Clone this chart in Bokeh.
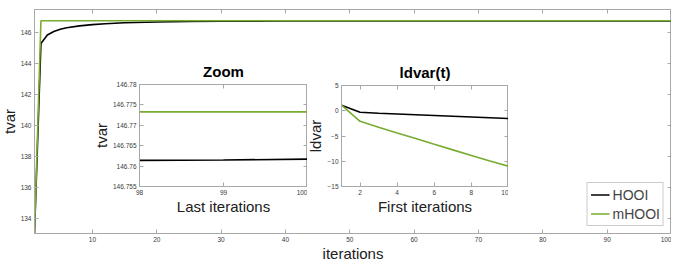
from bokeh.plotting import figure
from bokeh.layouts import column
from bokeh.models import LinearAxis, Legend, LegendItem, FixedTicker, Range1d
from bokeh.embed import file_html
from bokeh.resources import INLINE

# ---- data ----
iters = [1, 2, 3, 4, 5, 6, 8, 10, 12, 15, 20, 25, 30, 40, 50, 60, 70, 80, 90, 98, 99, 100]
tvar_hooi = [133.0, 145.3, 145.85, 146.08, 146.22, 146.32, 146.44, 146.52, 146.58, 146.64,
             146.69, 146.72, 146.74, 146.752, 146.757, 146.759, 146.760, 146.7608, 146.7612,
             146.7614, 146.7615, 146.7617]
tvar_mhooi = [133.0, 146.7733, 146.7733, 146.7733, 146.7733, 146.7733, 146.7733, 146.7733,
              146.7733, 146.7733, 146.7733, 146.7733, 146.7733, 146.7733, 146.7733, 146.7733,
              146.7733, 146.7733, 146.7733, 146.7733, 146.7733, 146.7733]
last_iters = [98, 99, 100]
last_hooi = [146.7614, 146.7615, 146.7617]
last_mhooi = [146.7733, 146.7733, 146.7733]
first_iters = [1, 2, 3, 4, 5, 6, 7, 8, 9, 10]
ldvar_hooi = [1.1, -0.3, -0.5, -0.65, -0.8, -0.95, -1.1, -1.25, -1.4, -1.55]
ldvar_mhooi = [1.1, -2.1, -3.25, -4.4, -5.5, -6.65, -7.75, -8.85, -9.95, -11.0]

main_xticks = [10, 20, 30, 40, 50, 60, 70, 80, 90, 100]
main_yticks = [134, 136, 138, 140, 142, 144, 146]
zoom_xticks = [98, 99, 100]
zoom_yticks = [146.755, 146.76, 146.765, 146.77, 146.775, 146.78]
ld_xticks = [2, 4, 6, 8, 10]
ld_yticks = [-15, -10, -5, 0, 5]

BLACK = "#000000"
GREEN = "#77AC30"
AX = "#a8a8a8"
TXT = "#3a3a3a"
FONT = "Liberation Sans"


def style(fig, xt, yt):
    fig.xgrid.visible = False
    fig.ygrid.visible = False
    fig.outline_line_color = AX
    fig.background_fill_color = "white"
    fig.border_fill_alpha = 0
    for ax in fig.xaxis + fig.yaxis:
        ax.axis_line_color = AX
        ax.major_tick_line_color = AX
        ax.major_tick_in = 4
        ax.major_tick_out = 0
        ax.minor_tick_line_color = None
        ax.major_label_text_font = FONT
        ax.major_label_text_font_size = "6.5px"
        ax.major_label_text_color = TXT
        ax.major_label_standoff = 3
        ax.axis_label_text_font = FONT
        ax.axis_label_text_font_size = "15px"
        ax.axis_label_text_font_style = "normal"
        ax.axis_label_text_color = "#202020"
        ax.axis_label_standoff = 0
    fig.xaxis.ticker = FixedTicker(ticks=xt)
    fig.yaxis.ticker = FixedTicker(ticks=yt)
    for side, t in (("above", xt), ("right", yt)):
        a = LinearAxis(ticker=FixedTicker(ticks=t),
                       major_label_overrides={v: "" for v in t},
                       major_label_text_font_size="1px",
                       major_label_standoff=0, major_tick_in=4, major_tick_out=0,
                       axis_line_color=AX, major_tick_line_color=AX,
                       minor_tick_line_color=None)
        fig.add_layout(a, side)


def place(fig, left, top):
    fig.styles = {"position": "absolute", "left": f"{left}px", "top": f"{top}px"}


# ---- main figure (frame: x 34..671, y 9..233 on the page) ----
p = figure(frame_width=637, frame_height=224, x_range=Range1d(1, 100),
           y_range=Range1d(133, 147.5), output_backend="svg", toolbar_location=None,
           min_border_left=50, min_border_right=0, min_border_top=12, min_border_bottom=31)
p.xaxis.axis_label = "iterations"
p.yaxis.axis_label = "tvar"
style(p, main_xticks, main_yticks)
r1 = p.line(iters, tvar_hooi, line_color=BLACK, line_width=1.6)
r2 = p.line(iters, tvar_mhooi, line_color=GREEN, line_width=1.6)
leg = Legend(items=[LegendItem(label="HOOI", renderers=[r1]),
                    LegendItem(label="mHOOI", renderers=[r2])],
             location="bottom_right", margin=7, padding=3, spacing=2,
             glyph_width=19, glyph_height=17, label_height=17, label_standoff=3,
             label_text_font=FONT, label_text_font_size="14px",
             border_line_color="#999999", background_fill_color="white")
p.add_layout(leg)
place(p, 34 - 50, 9 - 12)

# ---- inset 1 (frame: x 139..307, y 84..186) ----
z = figure(frame_width=168, frame_height=102, x_range=Range1d(98, 100),
           y_range=Range1d(146.755, 146.78), output_backend="svg", toolbar_location=None,
           title="Zoom", min_border_left=50, min_border_right=0, min_border_top=32,
           min_border_bottom=30)
z.xaxis.axis_label = "Last iterations"
z.yaxis.axis_label = "tvar"
style(z, zoom_xticks, zoom_yticks)
z.line(last_iters, last_hooi, line_color=BLACK, line_width=1.6)
z.line(last_iters, last_mhooi, line_color=GREEN, line_width=1.6)
place(z, 139 - 50, 84 - 32)

# ---- inset 2 (frame: x 341..508, y 85..186) ----
d = figure(frame_width=167, frame_height=101, x_range=Range1d(1, 10),
           y_range=Range1d(-15, 5), output_backend="svg", toolbar_location=None,
           title="ldvar(t)", min_border_left=50, min_border_right=0, min_border_top=32,
           min_border_bottom=30)
d.xaxis.axis_label = "First iterations"
d.yaxis.axis_label = "ldvar"
style(d, ld_xticks, ld_yticks)
d.line(first_iters, ldvar_hooi, line_color=BLACK, line_width=1.6)
d.line(first_iters, ldvar_mhooi, line_color=GREEN, line_width=1.6)
place(d, 341 - 50, 85 - 32)

for f in (z, d):
    f.title.align = "center"
    f.title.text_font = FONT
    f.title.text_font_size = "15px"
    f.title.text_font_style = "bold"
    f.title.text_color = "#000000"
    f.title.standoff = 10

inner = column(p, z, d, width=800, height=320, sizing_mode="fixed")
inner.styles = {"position": "absolute", "left": "0px", "top": "0px"}
outer = column(inner, width=673, height=264, sizing_mode="fixed")
outer.styles = {"position": "absolute", "left": "0px", "top": "0px", "overflow": "hidden"}
open("out.html", "w").write(file_html(outer, INLINE))
